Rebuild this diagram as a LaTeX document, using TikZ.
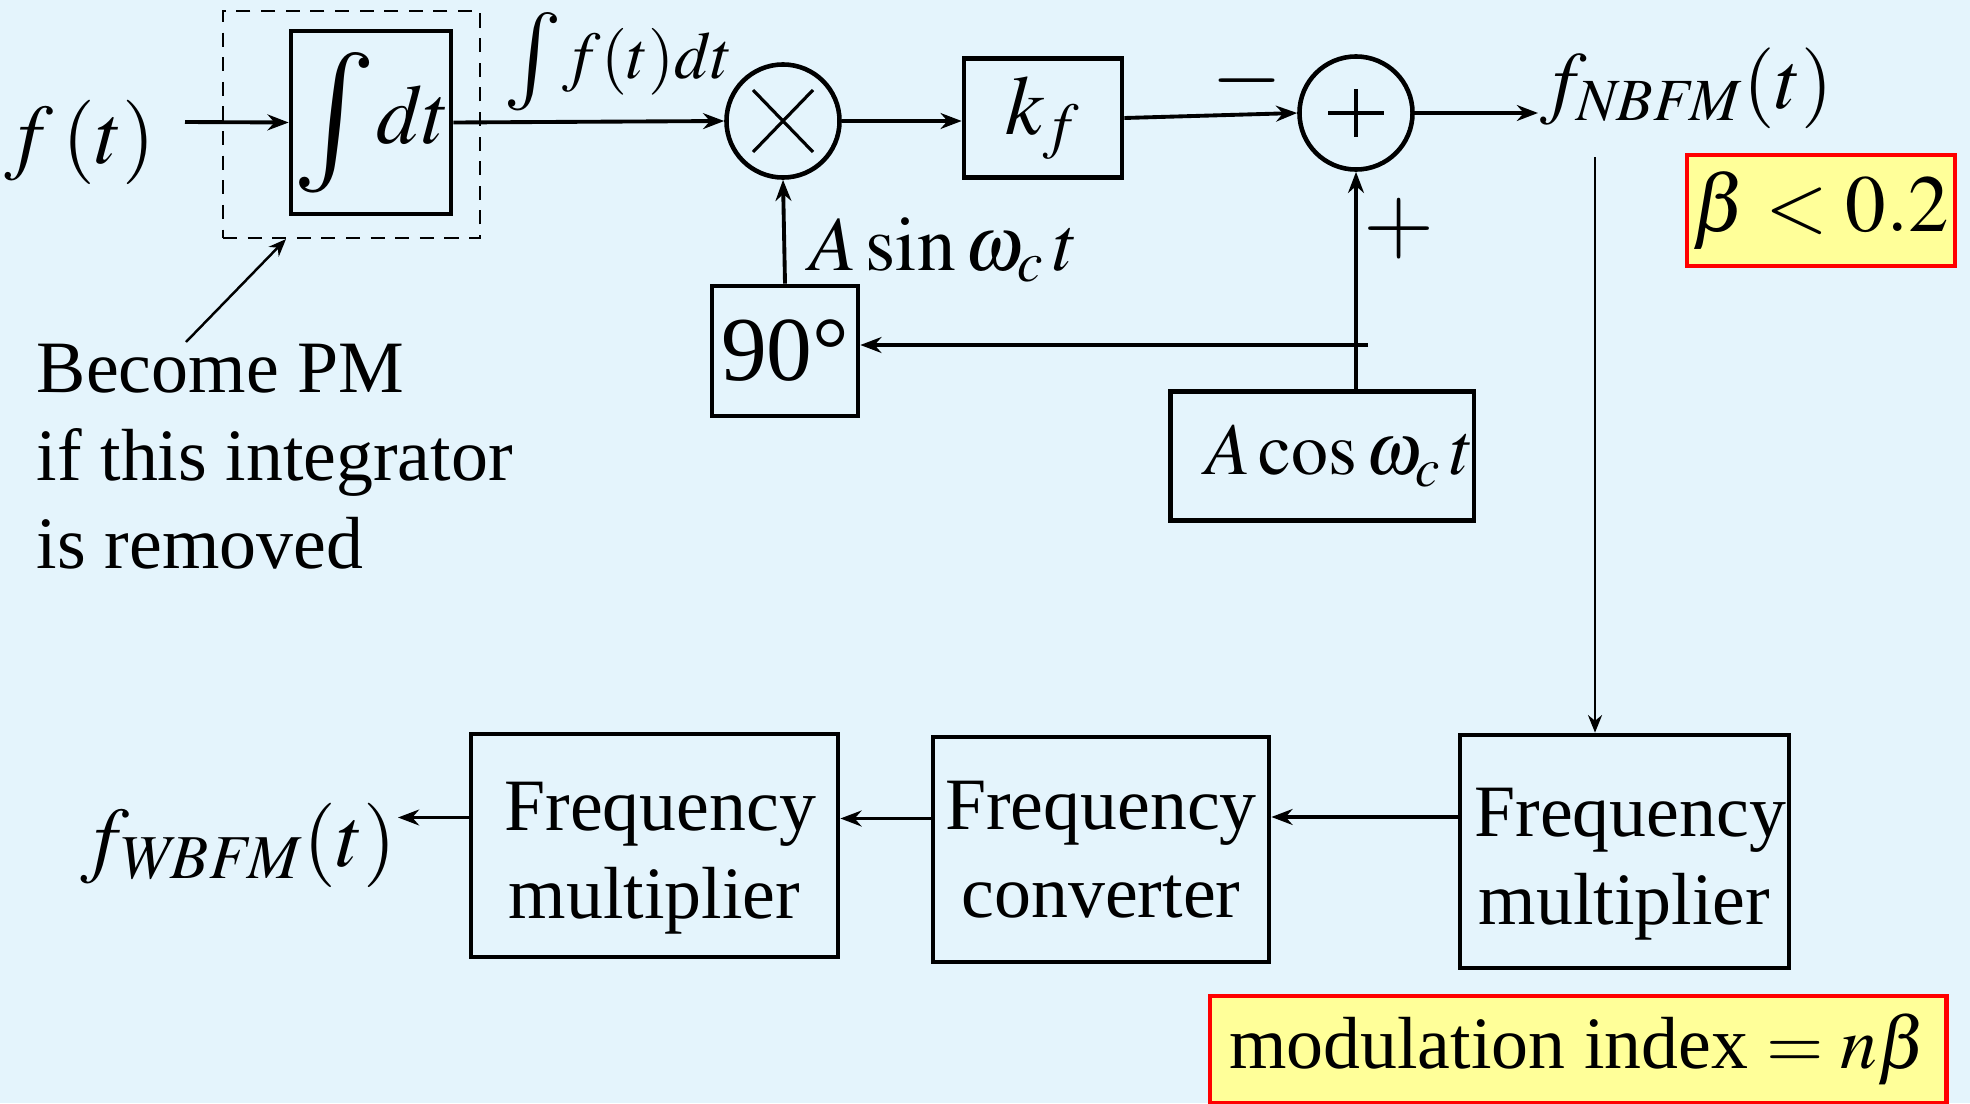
\documentclass[tikz,border=0pt]{standalone}
\usepackage{mathptmx}
\usepackage{fontspec}
\setmainfont{Liberation Serif}
\usetikzlibrary{arrows.meta,positioning}
\definecolor{slidebg}{HTML}{E4F4FC}
\definecolor{notefill}{HTML}{FFFF99}
\definecolor{noteedge}{HTML}{FF0000}
\newcommand{\labelsize}{\fontsize{24}{28}\selectfont}
\newcommand{\carriersize}{\fontsize{22}{26}\selectfont}
\newcommand{\bodysize}{\fontsize{21}{25}\selectfont}
\newcommand{\degsize}{\fontsize{26}{30}\selectfont}
\newcommand{\bigint}[1]{\vcenter{\hbox{\fontsize{#1}{#1}\selectfont$\int$}}}

\begin{document}
\begin{tikzpicture}[x=0.01cm, y=-0.01cm, line width=1.1pt, >={Stealth[length=6pt,width=4.5pt]},
  blk/.style={draw, line width=1.3pt, inner sep=0pt, align=center, font=\bodysize},
  junc/.style={draw, circle, line width=1.3pt, inner sep=0pt, minimum size=1.13cm},
  sig/.style={inner sep=0pt, font=\labelsize},
  hint/.style={draw=noteedge, fill=notefill, line width=1.3pt, inner sep=0pt},
  thinwire/.style={line width=0.7pt, ->, >={Stealth[length=5pt,width=4pt]}}]
  \fill[slidebg] (0,0) rectangle (1970,1103);
  \useasboundingbox (0,0) rectangle (1970,1103);

  % forward path
  \node[sig] (ft) at (80,142) {$f\,(t)$};
  \node[blk, minimum width=1.6cm, minimum height=1.83cm, font=\labelsize] (integ) at (371,122.5) {$\bigint{40}dt$};
  \node[draw, line width=0.6pt, dash pattern=on 4pt off 3pt, minimum width=2.57cm, minimum height=2.27cm] (pmbox) at (351.5,124.5) {};
  \node[sig, anchor=west, font=\fontsize{19}{23}\selectfont] (intlbl) at (502,62) {$\bigint{28}f(t)dt$};
  \node[junc] (mix) at (783,121) {};
  \draw[line width=0.9pt] ([shift={(-30,-31)}]mix.center) -- ([shift={(30,31)}]mix.center);
  \draw[line width=0.9pt] ([shift={(-30,31)}]mix.center) -- ([shift={(30,-31)}]mix.center);
  \node[blk, minimum width=1.58cm, minimum height=1.19cm, font=\labelsize] (kf) at (1043,118) {$k_f$};
  \node[sig, font=\degsize] (minus) at (1247,81) {$-$};
  \node[junc] (add) at (1356,113) {};
  \draw[line width=1.1pt] ([shift={(-28,0)}]add.center) -- ([shift={(28,0)}]add.center);
  \draw[line width=1.1pt] ([shift={(0,-24)}]add.center) -- ([shift={(0,24)}]add.center);
  \node[sig, anchor=west, font=\fontsize{23}{27}\selectfont] (fnb) at (1538,88) {$f_{\mathit{NBFM}}(t)$};
  \node[hint, minimum width=2.68cm, minimum height=1.11cm, font=\fontsize{23}{27}\selectfont] (beta) at (1821,210.5) {$\beta<0.2$};

  % carrier
  \node[sig, anchor=west, font=\carriersize] (asin) at (808,250) {$A\sin\omega_c\,t$};
  \node[blk, minimum width=1.46cm, minimum height=1.3cm, font=\degsize] (deg) at (785,351) {90°};
  \node[sig, font=\degsize] (plus) at (1399,229) {$+$};
  \node[blk, minimum width=2.95cm, minimum height=1.29cm, font=\bodysize] (acos) at (1322,456) {\hspace{0.35cm}$A\cos\omega_c\,t$};

  \node[inner sep=0pt, anchor=north west, align=left, font=\bodysize] (pmnote) at (35,342) {Become PM\\if this integrator\\is removed};

  % multiplier chain
  \node[blk, minimum width=3.29cm, minimum height=2.33cm] (mulA) at (1624.5,851.5) {\parbox{3cm}{\centering\vspace*{7pt}Frequency\\multiplier}};
  \node[blk, minimum width=3.36cm, minimum height=2.25cm] (conv) at (1101,849.5) {Frequency\\converter};
  \node[blk, minimum width=3.67cm, minimum height=2.23cm] (mulB) at (654.5,845.5) {\parbox{3cm}{\centering\vspace*{7pt}Frequency\\multiplier}};
  \node[sig, anchor=east] (fwb) at (398,845) {$f_{\mathit{WBFM}}(t)$};
  \node[hint, minimum width=7.36cm, minimum height=1.07cm, font=\bodysize] (index) at (1578,1049.5) {modulation index $=n\beta$};

  \coordinate (fin) at (185,122);
  \coordinate (tap) at (1595,157);
  \coordinate (split) at (1368,345);
  \coordinate (pmtail) at (186,342);
  \draw[->] (fin) -- (integ.west);
  \draw[->] (integ.east) -- (mix.west);
  \draw[->] (mix.east) -- (mix.east -| kf.west);
  \draw[->] (kf.east) -- (add.west);
  \draw[->] (add.east) -- (add.east -| fnb.west);
  \draw[thinwire] (tap) -- (tap |- mulA.north);
  \draw[->] (deg.north) -- (mix.south);
  \draw[->] (add.south |- acos.north) -- (add.south);
  \draw[->] (split) -- (split -| deg.east);
  \draw[thinwire] (pmtail) -- ([xshift=-0.655cm]pmbox.south);
  \draw[->] ([yshift=0.345cm]mulA.west) -- ([yshift=0.345cm]mulA.west -| conv.east);
  \draw[->] ([yshift=0.31cm]conv.west) -- ([yshift=0.31cm]conv.west -| mulB.east);
  \draw[->] ([yshift=0.28cm]mulB.west) -- ([yshift=0.28cm]mulB.west -| fwb.east);
\end{tikzpicture}
\end{document}
